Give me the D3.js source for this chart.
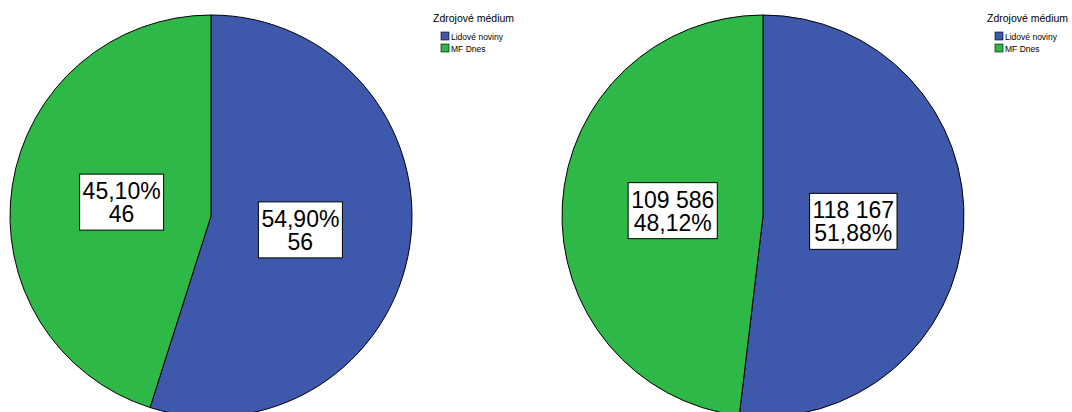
<!DOCTYPE html>
<html>
<head>
<meta charset="utf-8">
<script src="https://cdn.jsdelivr.net/npm/d3@7"></script>
<style>
  body { margin: 0; background: #fff; }
  svg { display: block; font-family: "Liberation Sans", Arial, sans-serif; }
</style>
</head>
<body>
<div id="chart"></div>
<script>
// data
var categories = ["Lidové noviny", "MF Dnes"];
var colours = ["#3E58AC", "#2EB848"];
var legendTitle = "Zdrojové médium";
var countsLeft = [56, 46];
var countsRight = [118167, 109586];

var width = 1072, height = 412;
var radius = 201;

var svg = d3.select("#chart").append("svg")
  .attr("width", width)
  .attr("height", height);

var cz = d3.formatLocale({ decimal: ",", thousands: "\u00a0", grouping: [3], currency: ["", ""] });
var fmtPct = cz.format(".2%");
var fmtCount = cz.format(",d");

var colour = d3.scaleOrdinal().domain(categories).range(colours);

var pie = d3.pie().sort(null).value(function(d) { return d.value; });
var arc = d3.arc().innerRadius(0).outerRadius(radius);
var labelArc = d3.arc().innerRadius(radius * 0.45).outerRadius(radius * 0.45);

// cx, cy = pie centre, lx = legend x, pctFirst = percent on the first line
function drawPanel(counts, cx, cy, lx, pctFirst) {
  var total = d3.sum(counts);
  var data = categories.map(function(c, i) { return { name: c, value: counts[i] }; });

  var g = svg.append("g").attr("transform", "translate(" + cx + "," + cy + ")");

  g.selectAll("path")
    .data(pie(data))
    .enter()
    .append("path")
    .attr("d", arc)
    .attr("fill", function(d) { return colour(d.data.name); })
    .attr("stroke", "#000")
    .attr("stroke-width", 1);

  var labels = g.selectAll("g.lbl")
    .data(pie(data))
    .enter()
    .append("g")
    .attr("class", "lbl")
    .attr("transform", function(d) {
      var c = labelArc.centroid(d);
      return "translate(" + c[0] + "," + c[1] + ")";
    });

  labels.each(function(d) {
    var lg = d3.select(this);
    var pct = fmtPct(d.value / total);
    var cnt = fmtCount(d.value);
    var lines = pctFirst ? [pct, cnt] : [cnt, pct];
    var rect = lg.append("rect");
    var t1 = lg.append("text")
      .attr("text-anchor", "middle")
      .attr("y", -3)
      .style("font-size", "23px")
      .text(lines[0]);
    var t2 = lg.append("text")
      .attr("text-anchor", "middle")
      .attr("y", 20)
      .style("font-size", "23px")
      .text(lines[1]);
    var b1 = t1.node().getBBox(), b2 = t2.node().getBBox();
    var x0 = Math.min(b1.x, b2.x), x1 = Math.max(b1.x + b1.width, b2.x + b2.width);
    var y0 = -3 - 21, y1 = 20 + 5;
    rect.attr("x", x0 - 3)
      .attr("y", y0 - 4)
      .attr("width", x1 - x0 + 6)
      .attr("height", y1 - y0 + 7)
      .attr("fill", "#fff")
      .attr("stroke", "#000")
      .attr("stroke-width", 1);
  });

  // legend
  var leg = svg.append("g").attr("transform", "translate(" + lx + ",0)");
  leg.append("text")
    .attr("x", 0)
    .attr("y", 22)
    .style("font-size", "10.5px")
    .text(legendTitle);

  var item = leg.selectAll("g.item")
    .data(categories)
    .enter()
    .append("g")
    .attr("class", "item")
    .attr("transform", function(d, i) { return "translate(8," + (32 + i * 12) + ")"; });

  item.append("rect")
    .attr("width", 8)
    .attr("height", 8)
    .attr("fill", function(d) { return colour(d); })
    .attr("stroke", "#000")
    .attr("stroke-width", 0.6);

  item.append("text")
    .attr("x", 10)
    .attr("y", 7.5)
    .style("font-size", "8.5px")
    .text(function(d) { return d; });
}

drawPanel(countsLeft, 211, 216, 433, true);
drawPanel(countsRight, 763, 216, 987, false);
</script>
</body>
</html>
